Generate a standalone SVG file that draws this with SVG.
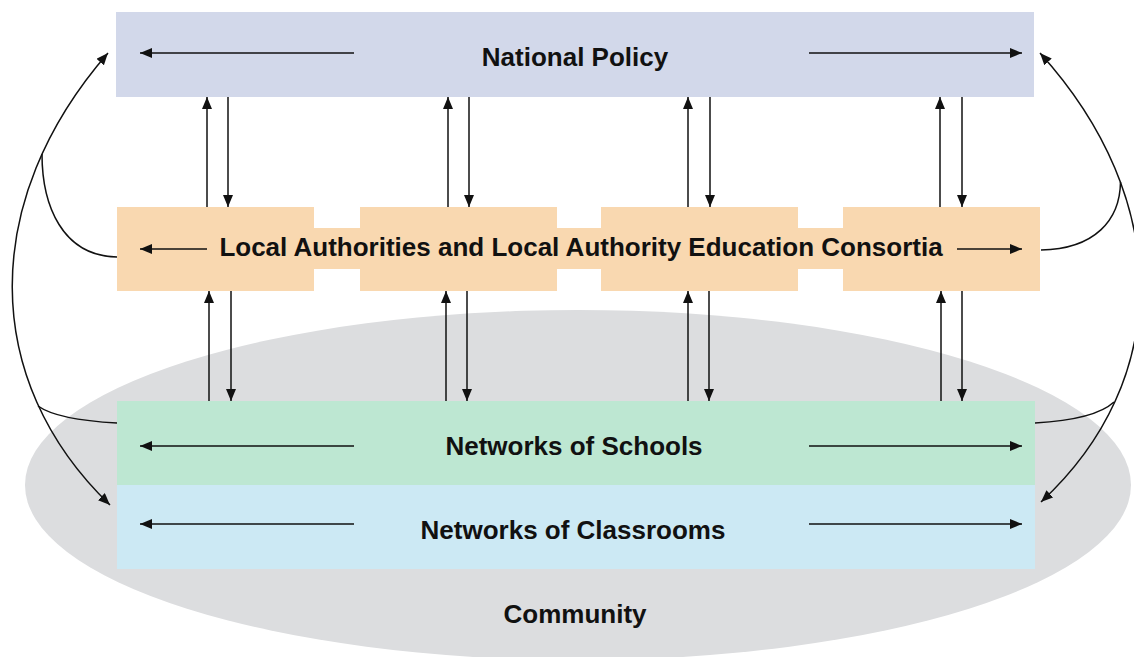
<svg xmlns="http://www.w3.org/2000/svg" width="1134" height="657" viewBox="0 0 1134 657">
<style>
.lbl{font-family:"Liberation Sans","DejaVu Sans",sans-serif;font-weight:bold;font-size:26px;fill:#111;text-anchor:middle}
.ln{fill:none;stroke:#111;stroke-width:1.5}
.ar{fill:none;stroke:#111;stroke-width:1.5;marker-end:url(#ah)}
.dbl{fill:none;stroke:#111;stroke-width:1.5;marker-end:url(#ah);marker-start:url(#ahs)}
</style>
<defs>
<marker id="ah" markerUnits="userSpaceOnUse" markerWidth="13" markerHeight="11" refX="12" refY="5" orient="auto"><path d="M0,0 L12,5 L0,10 z" fill="#111"/></marker>
<marker id="ahs" markerUnits="userSpaceOnUse" markerWidth="13" markerHeight="11" refX="12" refY="5" orient="auto-start-reverse"><path d="M0,0 L12,5 L0,10 z" fill="#111"/></marker>
</defs>
<rect width="1134" height="657" fill="#fff"/>
<g id="community">
<ellipse cx="578" cy="485" rx="553" ry="175" fill="#dcdddf"/>
<text class="lbl" x="575" y="623">Community</text>
</g>
<g id="national-policy">
<rect x="116" y="12" width="918" height="85" fill="#d2d8ea"/>
<text class="lbl" x="575" y="66">National Policy</text>
</g>
<g id="local-authorities">
<rect x="117" y="207" width="197" height="84" fill="#f9d8b0"/>
<rect x="360" y="207" width="197" height="84" fill="#f9d8b0"/>
<rect x="601" y="207" width="197" height="84" fill="#f9d8b0"/>
<rect x="843" y="207" width="197" height="84" fill="#f9d8b0"/>
<rect x="314" y="228" width="529" height="41" fill="#f9d8b0"/>
<text class="lbl" x="581" y="256">Local Authorities and Local Authority Education Consortia</text>
</g>
<g id="networks-of-schools">
<rect x="117" y="401" width="918" height="84" fill="#bde7d2"/>
<text class="lbl" x="574" y="455">Networks of Schools</text>
</g>
<g id="networks-of-classrooms">
<rect x="117" y="485" width="918" height="84" fill="#cce9f4"/>
<text class="lbl" x="573" y="539">Networks of Classrooms</text>
</g>
<g id="connectors">
<path class="ar" d="M354,53 H140"/>
<path class="ar" d="M809,53 H1022"/>
<path class="ar" d="M207,249 H140"/>
<path class="ar" d="M957,249 H1022"/>
<path class="ar" d="M354,446 H140"/>
<path class="ar" d="M809,446 H1022"/>
<path class="ar" d="M354,524 H140"/>
<path class="ar" d="M809,524 H1022"/>
<path class="ar" d="M207,207 V97"/>
<path class="ar" d="M228,97 V207"/>
<path class="ar" d="M448,207 V97"/>
<path class="ar" d="M469,97 V207"/>
<path class="ar" d="M688,207 V97"/>
<path class="ar" d="M710,97 V207"/>
<path class="ar" d="M940,207 V97"/>
<path class="ar" d="M962,97 V207"/>
<path class="ar" d="M209,401 V291"/>
<path class="ar" d="M231,291 V401"/>
<path class="ar" d="M446,401 V291"/>
<path class="ar" d="M467,291 V401"/>
<path class="ar" d="M688,401 V291"/>
<path class="ar" d="M709,291 V401"/>
<path class="ar" d="M941,401 V291"/>
<path class="ar" d="M962,291 V401"/>
<path class="dbl" d="M110,505 C-20,380 -20,200 108,53"/>
<path class="ln" d="M117,257 C62,256 42,205 42,154"/>
<path class="ln" d="M117,423 C80,421 52,416 38,406"/>
<path class="dbl" d="M1041,502 C1173,380 1173,200 1040,53"/>
<path class="ln" d="M1041,250 C1095,249 1120,220 1120.5,182"/>
<path class="ln" d="M1035,423 C1070,421 1100,415 1114,402"/>
</g>
</svg>
